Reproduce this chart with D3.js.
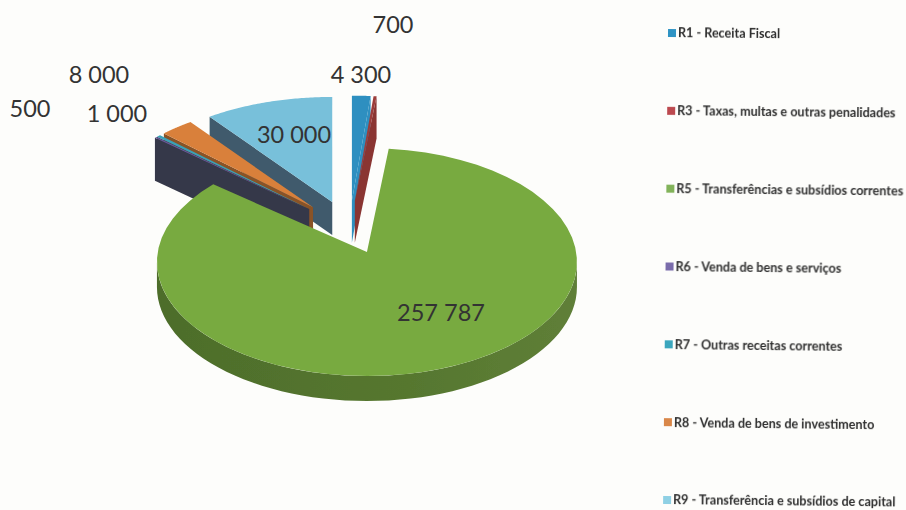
<!DOCTYPE html>
<html>
<head>
<meta charset="utf-8">
<script src="https://cdn.jsdelivr.net/npm/d3@7"></script>
<style>
  html,body{margin:0;padding:0;background:#fdfdfb;}
  svg{display:block;}
  text{font-family:Lato,"Open Sans",sans-serif;}
</style>
</head>
<body>
<div class="canvas"></div>
<script>
// data
const categories = ['R1 - Receita Fiscal','R3 - Taxas, multas e outras penalidades','R5 - Transferências e subsídios correntes','R6 - Venda de bens e serviços','R7 - Outras receitas correntes','R8 - Venda de bens de investimento','R9 - Transferência e subsídios de capital'];
const values = [4300,700,257787,500,1000,8000,30000];
const topColors = ['#2d8fc0','#9c3c3a','#78aa40','#6a5a9c','#3aa0b8','#d9803a','#78c0da'];
const wallColors = ['#2d8fc0','#8a3533','#56772f','#363848','#363848','#8a5326','#3f5a6c'];
const legendColors = ['#2f93c4','#bc4a50','#82b35a','#7a6cab','#3ba6bd','#d98749','#8fd0e4'];

const dims = {width:906, height:510, rx:210, ry:105};
const cent = {x:349.4, y:228.6};

// how far each slice is pulled out, its wall height, and tweaks for the squashed scan
const explode = [56,56,50,56,56,56,56];
const depth = [42,42,25,43,43,43,33];
const sliceRy = [105,105,114,105,105,105,105];
const rimDrop = [0,0,10,0,0,0,0];
// paint order, back to front
const paintOrder = [6,5,4,3,0,1,2];

const labelX = [361,393,441,30,117,99,294];
const labelY = [75,25,313,109,114,75,135];

const fmt = d3.formatLocale({decimal:',',thousands:' ',grouping:[3],currency:['','']}).format(',');

const svg = d3.select('.canvas').append('svg')
   .attr('width',dims.width)
   .attr('height',dims.height);

const defs = svg.append('defs');
defs.append('filter').attr('id','scan')
   .append('feGaussianBlur').attr('stdDeviation',0.35);
const grad = defs.append('linearGradient').attr('id','greenWall');
grad.append('stop').attr('offset','0%').attr('stop-color','#4d6d2b');
grad.append('stop').attr('offset','60%').attr('stop-color','#56772f');
grad.append('stop').attr('offset','100%').attr('stop-color','#5f7f38');

const pie = d3.pie().sort(null).value(d=>d);
const arcs = pie(values);
const line = d3.line();

const graph = svg.append('g').attr('filter','url(#scan)');

// slices
const apex = i=>{
  const mid = (arcs[i].startAngle+arcs[i].endAngle)/2;
  return [cent.x + explode[i]*Math.sin(mid), cent.y - explode[i]*0.5*Math.cos(mid)];
};
const rimPoint = (i,a)=>{
  const p = apex(i);
  return [p[0]+dims.rx*Math.sin(a), p[1]+rimDrop[i]-sliceRy[i]*Math.cos(a)];
};
const rim = (i,a0,a1)=>d3.range(0,61).map(k=>rimPoint(i,a0+(a1-a0)*k/60));
const down = (p,h)=>[p[0],p[1]+h];
const wall = (p,q,h)=>line([p,q,down(q,h),down(p,h)])+'Z';

paintOrder.forEach(i=>{
  const a = arcs[i];
  const p = apex(i);
  const h = depth[i];

  if(i===2){
    // outer wall of the big slice
    const front = rim(i,Math.PI/2,3*Math.PI/2);
    graph.append('path')
      .attr('d',line(front.concat(front.slice().reverse().map(q=>down(q,h))))+'Z')
      .attr('fill','url(#greenWall)');
  }else if(i<2){
    // first two slices show the wall on their right cut
    graph.append('path')
      .attr('d',wall(p,rimPoint(i,a.endAngle),h))
      .attr('fill',wallColors[i]);
  }else{
    graph.append('path')
      .attr('d',wall(p,rimPoint(i,a.startAngle),h))
      .attr('fill',wallColors[i]);
  }
  // top face
  graph.append('path')
    .attr('d',line([p].concat(rim(i,a.startAngle,a.endAngle)))+'Z')
    .attr('fill',topColors[i]);
});

// value labels
svg.append('g').selectAll('text')
  .data(values)
  .enter().append('text')
  .attr('x',(d,i)=>labelX[i])
  .attr('y',(d,i)=>labelY[i])
  .attr('dy','0.35em')
  .attr('text-anchor','middle')
  .attr('font-size',23.5)
  .attr('fill','#333')
  .text(d=>fmt(d));

// legend, the scan is a little bit rotated
const rowY = d3.scalePoint().domain(categories).range([33,500]);
const color = d3.scaleOrdinal().domain(categories).range(legendColors);
const legend = svg.append('g')
  .attr('filter','url(#scan)')
  .attr('transform','translate(668,0) rotate(0.6,0,33)');

const rows = legend.selectAll('g')
  .data(categories)
  .enter().append('g')
  .attr('transform',d=>`translate(0,${rowY(d)})`);

rows.append('rect')
  .attr('x',0).attr('y',-4)
  .attr('width',8).attr('height',8)
  .attr('fill',d=>color(d));

rows.append('text')
  .attr('x',10)
  .attr('dy','0.35em')
  .attr('font-size',12.6)
  .attr('font-weight',700)
  .attr('fill','#2e2e2e')
  .text(d=>d);
</script>
</body>
</html>
